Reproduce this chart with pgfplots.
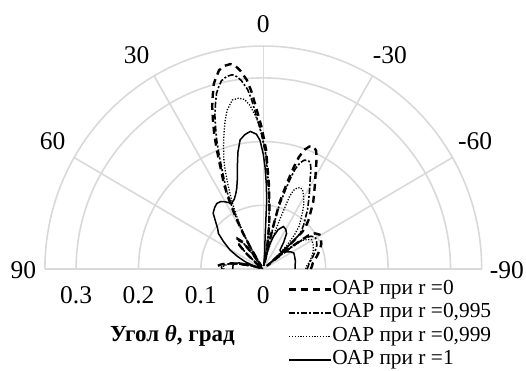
\documentclass[border=0pt]{standalone}
\usepackage{pgfplots}
\pgfplotsset{compat=1.18}
\usepackage{pgfplotstable}
\usepackage{fontspec}
\setmainfont{Liberation Serif}
\definecolor{gridc}{RGB}{217,217,217}

% r = 0 (dashed)
\pgfplotstableread{
t r
-90 0.076
-87 0.078
-83 0.080
-77 0.088
-72 0.095
-67 0.101
-63 0.104
-59 0.105
-56 0.100
-54 0.090
-53 0.070
-52 0.045
-51 0.020
-50 0.008
-49 0.030
-48 0.060
-47 0.085
-45.7 0.095
-43 0.107
-40.6 0.116
-37.3 0.132
-34 0.146
-32 0.156
-30 0.167
-28 0.180
-26 0.195
-24.5 0.204
-23 0.208
-21 0.206
-19.5 0.199
-18 0.185
-17 0.167
-16 0.146
-15 0.126
-14 0.107
-13 0.058
-12 0.010
-11 0.012
-10.5 0.029
-9.2 0.046
-7.5 0.073
-5.8 0.098
-4 0.131
-2.8 0.151
-1.4 0.187
0 0.209
0.8 0.224
2 0.243
3 0.261
4 0.281
5.1 0.298
6.8 0.314
8 0.322
9.3 0.326
11 0.325
12.8 0.320
14 0.311
15.2 0.302
16.5 0.285
17.8 0.268
19 0.248
20.3 0.227
21.5 0.205
22.6 0.185
24 0.163
25.2 0.149
26.3 0.131
27.2 0.116
28.5 0.092
30 0.066
31.5 0.039
33 0.015
34.5 0.005
36 0.029
38 0.054
41 0.063
45 0.059
48 0.040
51 0.015
54 0.003
60 0.002
70 0.003
74 0.015
77 0.030
79 0.045
81 0.058
84 0.068
86 0.073
88 0.073
90 0.072
}\dataA

% r = 0,995 (dash-dot)
\pgfplotstableread{
t r
-90 0.070
-87 0.072
-83 0.074
-77 0.081
-72 0.087
-67 0.093
-63 0.096
-59 0.097
-56 0.092
-54 0.083
-53 0.064
-52 0.041
-51 0.018
-50 0.007
-49 0.027
-48 0.054
-47 0.077
-45.7 0.085
-43 0.095
-40.6 0.103
-37.3 0.117
-34 0.130
-32 0.139
-30 0.149
-28 0.160
-26 0.174
-24.5 0.182
-23 0.185
-21 0.183
-19.5 0.177
-18 0.165
-17 0.149
-16 0.130
-15 0.112
-14 0.095
-13 0.052
-12 0.009
-11 0.011
-10.5 0.028
-9.2 0.044
-7.5 0.069
-5.8 0.093
-4 0.124
-2.8 0.143
-1.4 0.177
0 0.198
0.8 0.212
2 0.230
3 0.247
4 0.266
5.1 0.283
6.8 0.298
8 0.305
9.3 0.309
11 0.308
12.8 0.303
14 0.295
15.2 0.286
16.5 0.270
17.8 0.254
19 0.235
20.3 0.215
21.5 0.194
22.6 0.175
24 0.155
25.2 0.141
26.3 0.124
27.2 0.110
28.5 0.087
30 0.063
31.5 0.037
33 0.014
34.5 0.005
36 0.028
38 0.051
41 0.060
45 0.056
48 0.038
51 0.014
54 0.003
60 0.002
70 0.003
74 0.014
77 0.028
79 0.042
81 0.054
84 0.063
86 0.067
88 0.067
90 0.066
}\dataB

% r = 0,999 (dotted)
\pgfplotstableread{
t r
-90 0.068
-87 0.069
-83 0.073
-78 0.078
-74 0.082
-69 0.086
-64 0.089
-59 0.090
-55 0.080
-52 0.060
-51 0.035
-50 0.008
-48 0.029
-45.5 0.054
-43 0.073
-40.6 0.088
-37.5 0.099
-35 0.110
-32.2 0.122
-29.5 0.131
-27 0.139
-25 0.141
-23 0.138
-21.5 0.133
-20.3 0.122
-19 0.087
-17 0.054
-15 0.029
-13 0.012
-12 0.005
-11 0.010
-9.2 0.046
-7.5 0.072
-5.8 0.097
-4 0.128
-2.8 0.149
-1.4 0.180
0 0.201
1.5 0.224
3 0.241
4.8 0.258
6.5 0.268
8.4 0.271
10.6 0.270
13.1 0.256
14.8 0.240
16.5 0.222
18.4 0.202
20.3 0.182
21.5 0.167
23 0.146
25 0.122
27 0.097
28.5 0.078
30 0.058
31.5 0.034
33 0.015
34.5 0.005
36 0.027
38 0.050
41 0.058
45 0.054
48 0.036
51 0.013
54 0.003
60 0.002
70 0.003
74 0.013
77 0.027
79 0.040
81 0.051
84 0.060
86 0.064
88 0.064
90 0.063
}\dataC

% r = 1 (solid)
\pgfplotstableread{
t r
-90 0.051
-86 0.051
-80 0.052
-75 0.053
-68 0.054
-63 0.055
-59 0.052
-55 0.047
-50 0.042
-46 0.039
-42 0.040
-38 0.053
-33.8 0.067
-30 0.072
-25.7 0.074
-21 0.066
-17.5 0.053
-15 0.040
-12 0.025
-9 0.008
-7 0.005
-5 0.030
-3.4 0.046
-2.9 0.109
-2 0.135
-1 0.160
0 0.180
1.5 0.202
3 0.212
5.5 0.217
8 0.213
10.4 0.206
12.5 0.188
14.5 0.166
16.3 0.148
18.5 0.134
20.2 0.127
23 0.119
26.1 0.115
28 0.118
30.1 0.122
33 0.126
35.9 0.127
39 0.124
42.5 0.119
46 0.106
49 0.097
52.2 0.091
56 0.077
60.8 0.061
64.5 0.046
68.6 0.031
71 0.018
73 0.020
76 0.040
80 0.048
85 0.049
90 0.049
}\dataD

\begin{document}
\begin{tikzpicture}
\begin{axis}[
  x=624pt, y=637pt,
  xmin=-0.35, xmax=0.35, ymin=0, ymax=0.35,
  axis line style={draw=none},
  tick style={draw=none},
  xtick={-0.3,-0.2,-0.1,0},
  xticklabels={0.3,0.2,0.1,0},
  ytick=\empty,
  xticklabel style={font=\fontsize{25.5}{28}\selectfont, anchor=north, inner sep=0pt, yshift=-17.7pt},
  /pgf/number format/assume math mode=true,
  clip=false,
  xlabel={\textbf{Угол \textit{θ}, град}},
  xlabel style={at={(axis description cs:0.2921,-0.326)}, anchor=base, inner sep=0pt, font=\fontsize{23}{26}\selectfont},
  legend cell align=left,
  legend style={draw=none, fill=none, at={(axis description cs:0.5566,-0.0462)}, anchor=north west,
    inner sep=0pt, outer sep=0pt, font=\fontsize{21.4}{24}\selectfont,
    nodes={inner sep=0pt, text height=15pt, text depth=5pt}, row sep=3.5pt},
  legend image code/.code={\draw[#1] (0pt,0pt) -- (42pt,0pt);},
]
% grid
\draw[gridc, line width=1.6pt] (axis cs:-0.35,0) -- (axis cs:0.35,0);
\draw[gridc, line width=1.6pt] (axis cs:0,0) -- (axis cs:0,0.35);
\draw[gridc, line width=1.6pt] (axis cs:0,0) -- (axis cs:-0.175,0.30311);
\draw[gridc, line width=1.6pt] (axis cs:0,0) -- (axis cs:0.175,0.30311);
\draw[gridc, line width=1.6pt] (axis cs:0,0) -- (axis cs:-0.30311,0.175);
\draw[gridc, line width=1.6pt] (axis cs:0,0) -- (axis cs:0.30311,0.175);
\draw[gridc, line width=1.6pt] (axis cs:0.1,0) arc[start angle=0, end angle=180, x radius=62.4pt, y radius=63.7pt];
\draw[gridc, line width=1.6pt] (axis cs:0.2,0) arc[start angle=0, end angle=180, x radius=124.8pt, y radius=127.4pt];
\draw[gridc, line width=1.6pt] (axis cs:0.3,0) arc[start angle=0, end angle=180, x radius=187.2pt, y radius=191.1pt];
\draw[gridc, line width=1.6pt] (axis cs:0.35,0) arc[start angle=0, end angle=180, x radius=218.4pt, y radius=222.95pt];

\addplot[black, line width=2.4pt, dash pattern=on 7pt off 5pt, data cs=polar]
  table[x expr=\thisrow{t}+90, y=r]{\dataA};
\addlegendentry{ОАР при r =0}
\addplot[black, line width=1.6pt, dash pattern=on 6pt off 2pt on 2pt off 2pt, data cs=polar]
  table[x expr=\thisrow{t}+90, y=r]{\dataB};
\addlegendentry{ОАР при r =0,995}
\addplot[black, line width=1.3pt, dash pattern=on 1.2pt off 1.6pt, data cs=polar]
  table[x expr=\thisrow{t}+90, y=r]{\dataC};
\addlegendentry{ОАР при r =0,999}
\addplot[black, line width=1.5pt, data cs=polar]
  table[x expr=\thisrow{t}+90, y=r]{\dataD};
\addlegendentry{ОАР при r =1}

\begin{scope}[every node/.style={font=\fontsize{25.5}{28}\selectfont, inner sep=0pt}]
\node at (axis cs:0,0.3843) {0};
\node at (axis cs:-0.2029,0.3359) {30};
\node at (axis cs:0.2030,0.3359) {-30};
\node at (axis cs:-0.3378,0.2009) {60};
\node at (axis cs:0.3393,0.2009) {-60};
\node at (axis cs:-0.3846,-0.0024) {90};
\node at (axis cs:0.3905,-0.0024) {-90};
\end{scope}

\coordinate (bl) at (axis cs:-0.42196,-0.16013);
\coordinate (tr) at (axis cs:0.42099,0.42229);
\end{axis}
\pgfresetboundingbox
\path[use as bounding box] (bl) rectangle (tr);
\end{tikzpicture}
\end{document}
